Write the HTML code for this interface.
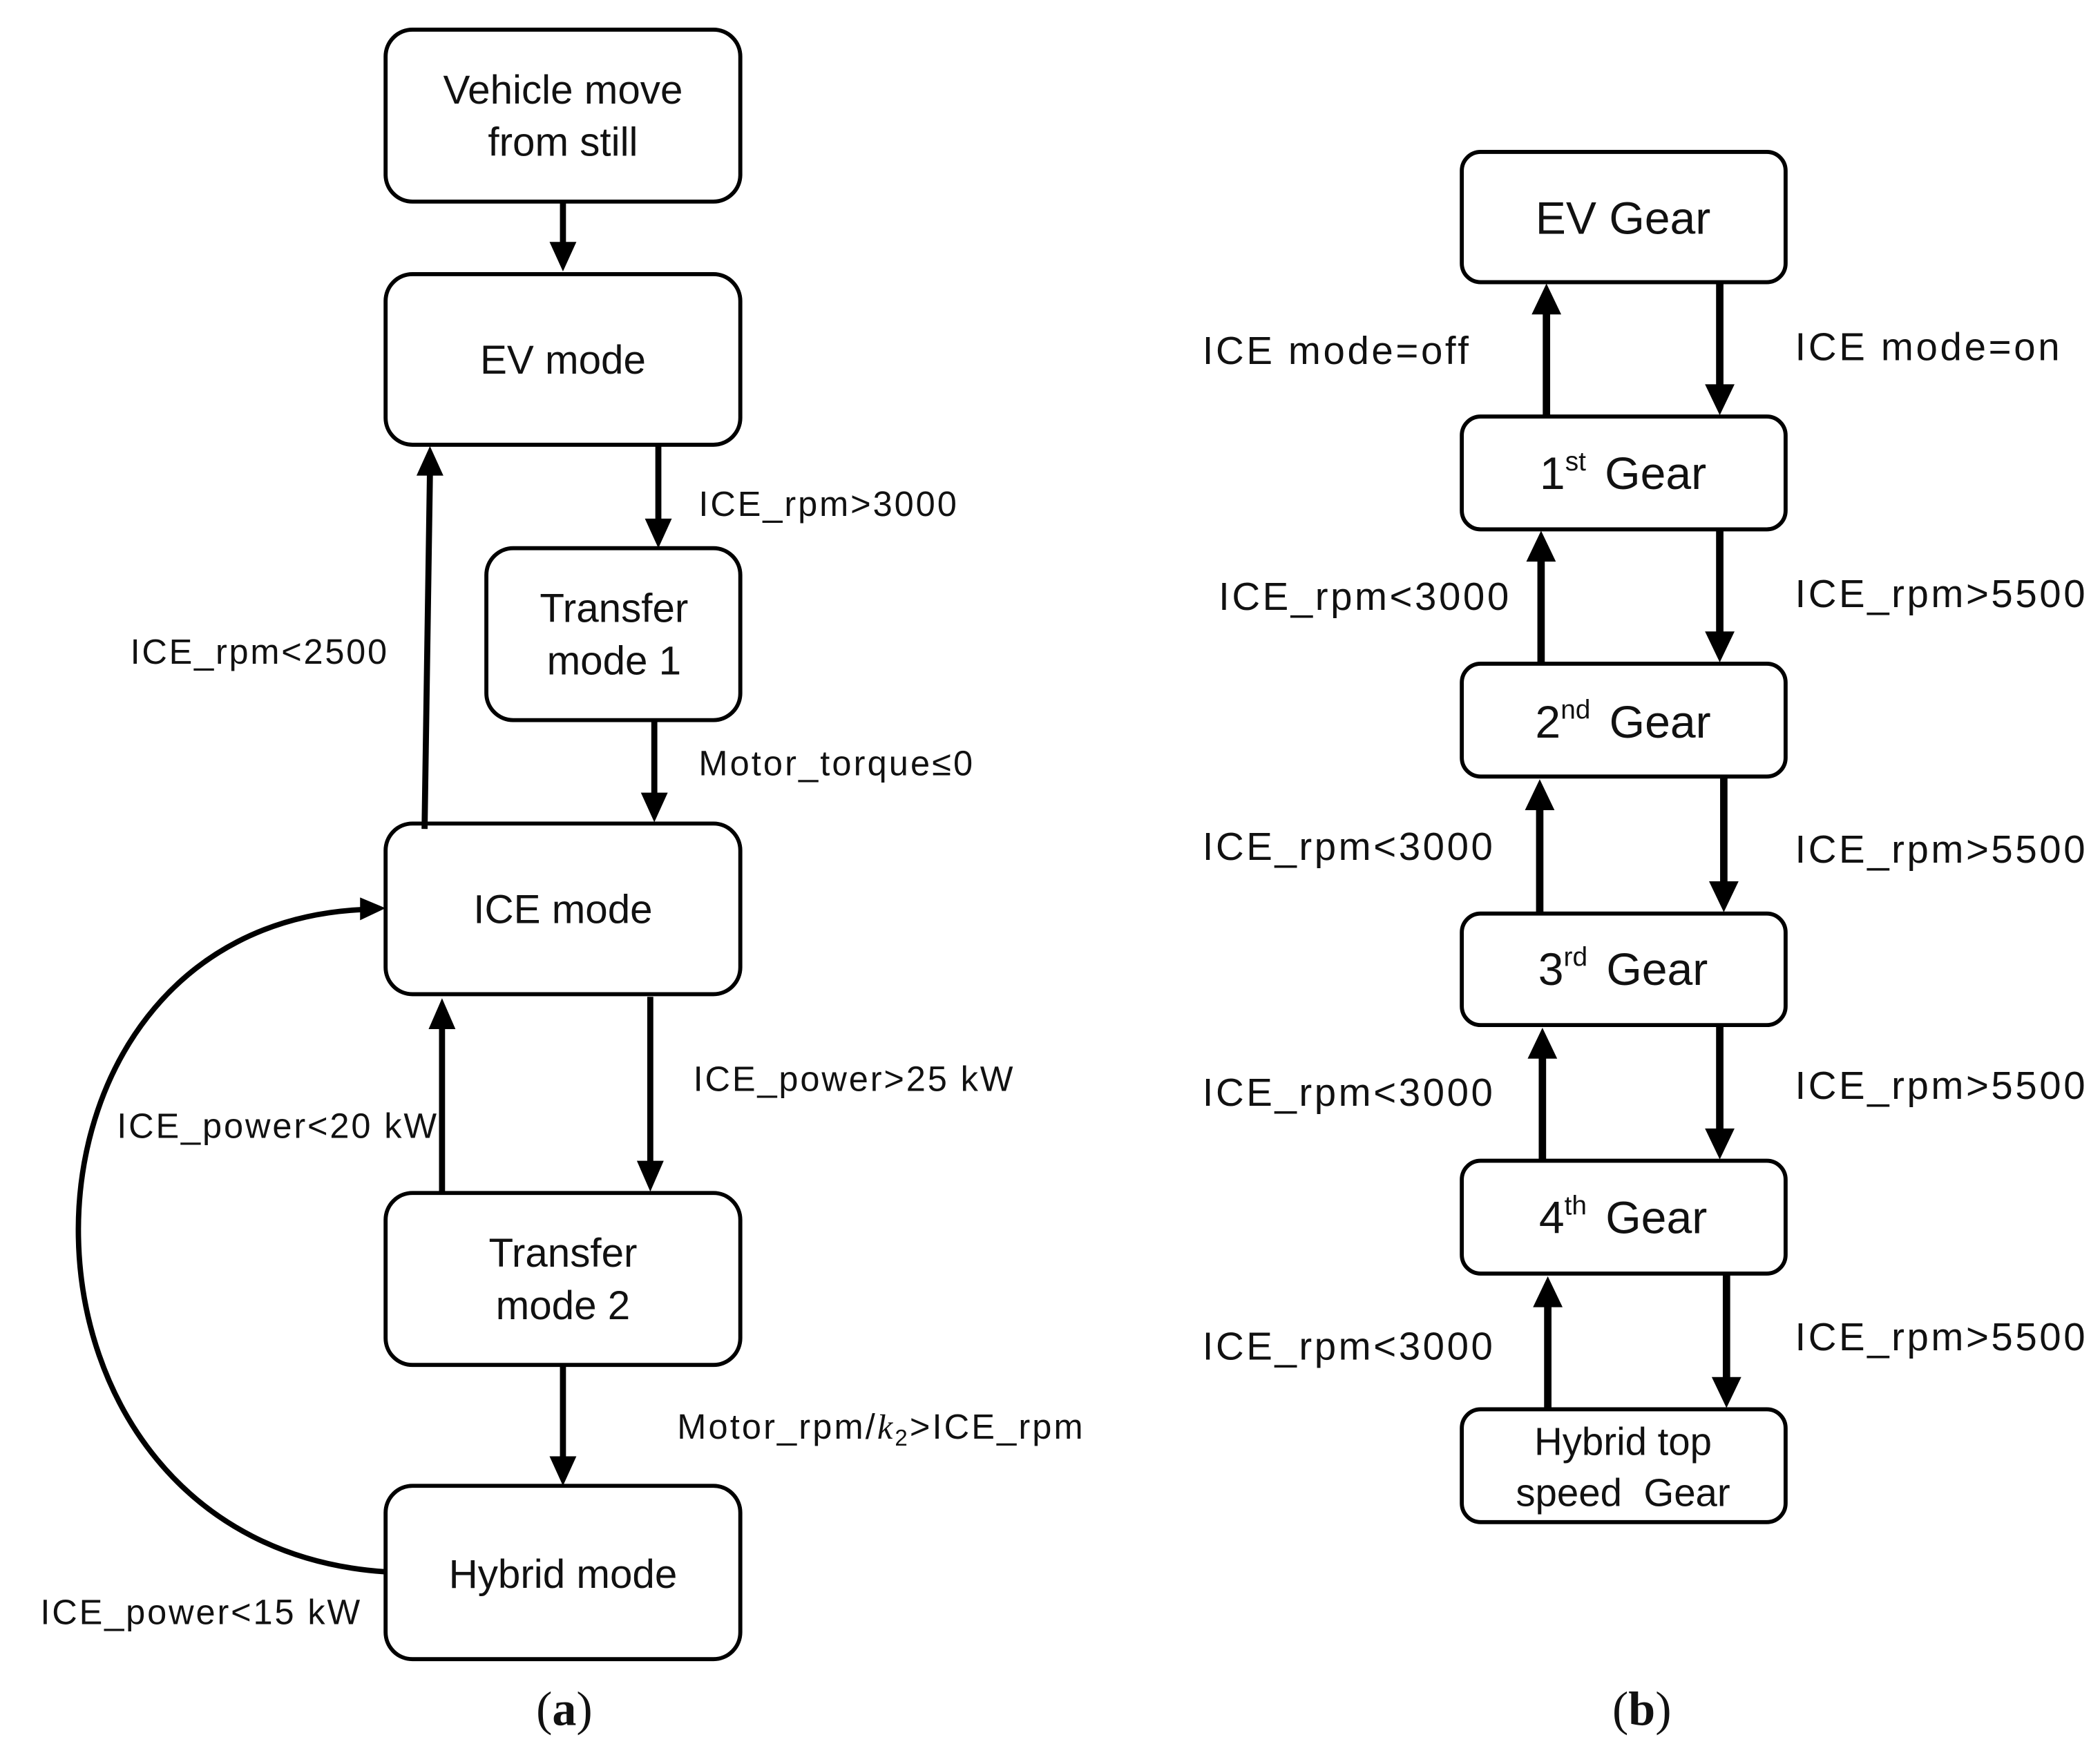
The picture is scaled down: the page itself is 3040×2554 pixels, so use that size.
<!DOCTYPE html>
<html><head><meta charset="utf-8"><style>
html,body{margin:0;padding:0;background:#fff;}
svg{display:block;}
text{font-family:"Liberation Sans",sans-serif;fill:#111;}
</style></head><body>
<svg width="3040" height="2554" viewBox="0 0 1563 1313" xmlns="http://www.w3.org/2000/svg">
<g fill="none" stroke="#000" stroke-width="3">
<rect x="287" y="22" width="264" height="128" rx="20"/>
<rect x="287" y="204" width="264" height="127" rx="20"/>
<rect x="362" y="408" width="189" height="128" rx="20"/>
<rect x="287" y="613" width="264" height="127" rx="20"/>
<rect x="287" y="888" width="264" height="128" rx="20"/>
<rect x="287" y="1106" width="264" height="129" rx="20"/>
<rect x="1088" y="113" width="241" height="97" rx="14"/>
<rect x="1088" y="310" width="241" height="84" rx="14"/>
<rect x="1088" y="494" width="241" height="84" rx="14"/>
<rect x="1088" y="680" width="241" height="83" rx="14"/>
<rect x="1088" y="864" width="241" height="84" rx="14"/>
<rect x="1088" y="1049" width="241" height="84" rx="14"/>
</g>
<g stroke="#000" stroke-width="4.5" fill="none">
<line x1="419" y1="150" x2="419" y2="182"/><path d="M409,180 L419,202 L429,180z" fill="#000" stroke="none"/>
<line x1="490" y1="331" x2="490" y2="388"/><path d="M480,386 L490,408 L500,386z" fill="#000" stroke="none"/>
<line x1="487" y1="536" x2="487" y2="592"/><path d="M477,590 L487,612 L497,590z" fill="#000" stroke="none"/>
<line x1="316" y1="617" x2="320" y2="352"/><path d="M310,354 L320,332 L330,354z" fill="#000" stroke="none"/>
<line x1="329" y1="887" x2="329" y2="764"/><path d="M319,766 L329,743 L339,766z" fill="#000" stroke="none"/>
<line x1="484" y1="742" x2="484" y2="866"/><path d="M474,864 L484,887 L494,864z" fill="#000" stroke="none"/>
<line x1="419" y1="1016" x2="419" y2="1086"/><path d="M409,1084 L419,1106 L429,1084z" fill="#000" stroke="none"/>
<path d="M287,1170 C -15,1150 -15,690 270,677" stroke-width="4"/>
<path d="M268,668 L287,676 L268,685z" fill="#000" stroke="none"/>
</g>
<g stroke="#000" stroke-width="5.5" fill="none">
<line x1="1151" y1="310" x2="1151" y2="232"/><path d="M1140,234 L1151,211 L1162,234z" fill="#000" stroke="none"/>
<line x1="1280" y1="210" x2="1280" y2="288"/><path d="M1269,286 L1280,309 L1291,286z" fill="#000" stroke="none"/>
<line x1="1147" y1="494" x2="1147" y2="416"/><path d="M1136,418 L1147,395 L1158,418z" fill="#000" stroke="none"/>
<line x1="1280" y1="394" x2="1280" y2="472"/><path d="M1269,470 L1280,493 L1291,470z" fill="#000" stroke="none"/>
<line x1="1146" y1="680" x2="1146" y2="601"/><path d="M1135,603 L1146,580 L1157,603z" fill="#000" stroke="none"/>
<line x1="1283" y1="578" x2="1283" y2="658"/><path d="M1272,656 L1283,679 L1294,656z" fill="#000" stroke="none"/>
<line x1="1148" y1="864" x2="1148" y2="786"/><path d="M1137,788 L1148,765 L1159,788z" fill="#000" stroke="none"/>
<line x1="1280" y1="763" x2="1280" y2="842"/><path d="M1269,840 L1280,863 L1291,840z" fill="#000" stroke="none"/>
<line x1="1152" y1="1049" x2="1152" y2="971"/><path d="M1141,973 L1152,950 L1163,973z" fill="#000" stroke="none"/>
<line x1="1285" y1="948" x2="1285" y2="1027"/><path d="M1274,1025 L1285,1048 L1296,1025z" fill="#000" stroke="none"/>
</g>
<g font-size="30" text-anchor="middle">
<text x="419" y="77">Vehicle move</text>
<text x="419" y="116">from still</text>
<text x="419" y="278">EV mode</text>
<text x="457" y="463">Transfer</text>
<text x="457" y="502">mode 1</text>
<text x="419" y="687">ICE mode</text>
<text x="419" y="943">Transfer</text>
<text x="419" y="982">mode 2</text>
<text x="419" y="1182">Hybrid mode</text>
</g>
<g font-size="29" text-anchor="middle">
<text x="1208" y="1083">Hybrid top</text>
<text x="1208" y="1121" xml:space="preserve">speed  Gear</text>
</g>
<g font-size="34" text-anchor="middle">
<text x="1208" y="174">EV Gear</text>
<text x="1208" y="364">1<tspan font-size="20" dy="-14">st</tspan><tspan dy="14" dx="14">Gear</tspan></text>
<text x="1208" y="549">2<tspan font-size="20" dy="-14">nd</tspan><tspan dy="14" dx="14">Gear</tspan></text>
<text x="1208" y="733">3<tspan font-size="20" dy="-14">rd</tspan><tspan dy="14" dx="14">Gear</tspan></text>
<text x="1208" y="918">4<tspan font-size="20" dy="-14">th</tspan><tspan dy="14" dx="14">Gear</tspan></text>
</g>
<g font-size="26">
<text x="520" y="384" textLength="192">ICE_rpm&gt;3000</text>
<text x="520" y="577" textLength="204">Motor_torque≤0</text>
<text x="97" y="494" textLength="191">ICE_rpm&lt;2500</text>
<text x="87" y="847" textLength="238">ICE_power&lt;20 kW</text>
<text x="516" y="812" textLength="238">ICE_power&gt;25 kW</text>
<text x="504" y="1071" textLength="302">Motor_rpm/<tspan font-family="Liberation Serif" font-style="italic">k</tspan><tspan font-size="17" dy="5">2</tspan><tspan dy="-5">&gt;ICE_rpm</tspan></text>
<text x="30" y="1209" textLength="238">ICE_power&lt;15 kW</text>
</g>
<g font-size="29">
<text x="895" y="271" textLength="198">ICE mode=off</text>
<text x="1336" y="268" textLength="197">ICE mode=on</text>
<text x="907" y="454" textLength="216">ICE_rpm&lt;3000</text>
<text x="895" y="640" textLength="216">ICE_rpm&lt;3000</text>
<text x="895" y="823" textLength="216">ICE_rpm&lt;3000</text>
<text x="895" y="1012" textLength="216">ICE_rpm&lt;3000</text>
<text x="1336" y="452" textLength="216">ICE_rpm&gt;5500</text>
<text x="1336" y="642" textLength="216">ICE_rpm&gt;5500</text>
<text x="1336" y="818" textLength="216">ICE_rpm&gt;5500</text>
<text x="1336" y="1005" textLength="216">ICE_rpm&gt;5500</text>
</g>
<g font-size="36" text-anchor="middle">
<text x="420" y="1284" style="font-family:'Liberation Serif',serif">(<tspan font-weight="bold">a</tspan>)</text>
<text x="1222" y="1284" style="font-family:'Liberation Serif',serif">(<tspan font-weight="bold">b</tspan>)</text>
</g>
</svg>
</body></html>
